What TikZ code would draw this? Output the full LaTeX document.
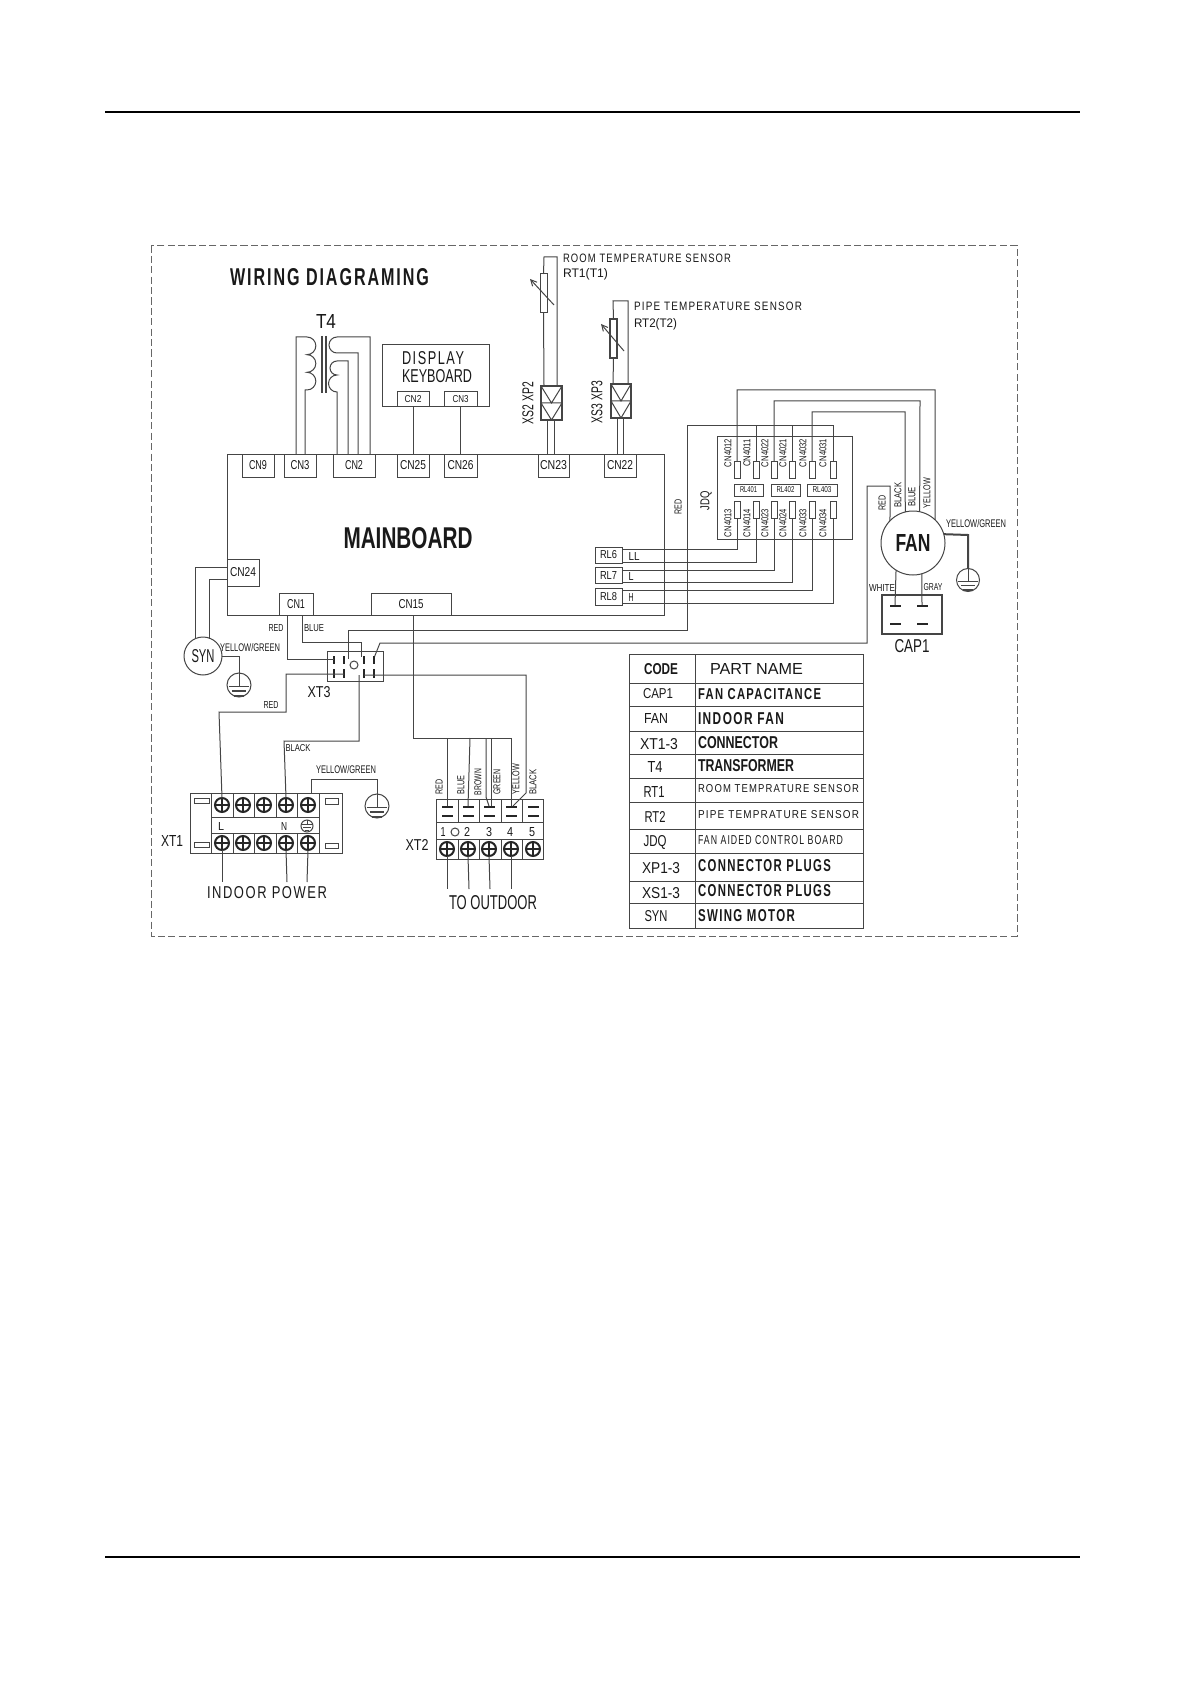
\documentclass[tikz,border=0pt]{standalone}
\usepackage{fontspec}
\usepackage{graphicx}
\setmainfont{Liberation Sans}
\newfontfamily\spcd[LetterSpace=12]{Liberation Sans}
\usetikzlibrary{arrows.meta,calc}
\newlength\pxu \setlength{\pxu}{0.5pt}
\newcounter{tn}
\definecolor{ink}{gray}{0.27}
\definecolor{textink}{gray}{0.1}
\tikzset{
  wire/.style={draw=ink,line width=0.5pt,line join=miter},
  txt/.style={inner sep=0pt,outer sep=0pt,text=textink},
  box/.style={draw=ink,line width=0.5pt,rectangle,inner sep=0pt,outer sep=0pt,text=textink},
  thickbox/.style={box,line width=1.1pt},
  screwc/.style={draw=black!85,line width=1pt,circle,inner sep=0pt,outer sep=0pt,minimum size=7pt},
  earthc/.style={draw=ink,line width=0.5pt,circle,inner sep=0pt,outer sep=0pt,text=textink},
  bar/.style={fill=black!85,rectangle,inner sep=0pt,outer sep=0pt},
  framed/.style={draw=black!60,line width=0.5pt,dash pattern=on 3.6pt off 1.6pt},
}
\newcommand{\rb}[3]{\resizebox{#1\pxu}{#2\pxu}{#3}}
\newcommand{\tx}[6][]{\stepcounter{tn}\node[txt,#1] (t\arabic{tn}) at (#2,#3) {\rb{#4}{#5}{#6}};}
\newcommand{\bx}[7][]{\node[box,#1,minimum width={(#5-#3)*\pxu},minimum height={(#6-#4)*\pxu}] (#2) at ({(#3+#5)/2},{(#4+#6)/2}) {#7};}
\newcommand{\screw}[3]{\node[screwc] (#1) at (#2,#3) {};
  \draw[draw=black!85,line width=0.8pt] (#2-7,#3)--(#2+7,#3) (#2,#3-7)--(#2,#3+7);}
\newcommand{\earth}[4]{\node[earthc,minimum size={2*#4*\pxu}] (#1) at (#2,#3) {};
  \draw[draw=ink,line width=0.5pt] (#1.north)--(#2,#3+0.1*#4) (#2-0.85*#4,#3+0.1*#4)--(#2+0.85*#4,#3+0.1*#4);
  \draw[draw=ink,line width=0.7pt] (#2-0.6*#4,#3+0.5*#4)--(#2+0.6*#4,#3+0.5*#4);
  \draw[draw=ink,line width=1pt] (#2-0.4*#4,#3+0.88*#4)--(#2+0.4*#4,#3+0.88*#4);}
\newcommand{\conn}[6]{\node[thickbox,minimum width={(#4-#2)*\pxu},minimum height={(#5-#3)*\pxu}] (#1) at ({(#2+#4)/2},{(#3+#5)/2}) {};
  \draw[wire] (#2,#6)--(#4,#6)
   (#2,#3)--({(#2+#4)/2},#6)--(#4,#3)
   (#2,#6)--({(#2+#4)/2},#5)--(#4,#6);}
\newcommand{\bars}[3]{\node[bar,minimum width=5.5pt,minimum height=1pt] (#1) at (#2,#3) {};}
\begin{document}
\begin{tikzpicture}[x=0.5pt,y=-0.5pt]
\useasboundingbox (0,0) rectangle (1191,1684);
\fill[white] (0,0) rectangle (1191,1684);
% page rules
\draw[black,line width=1pt] (105,112)--(1080,112);
\draw[black,line width=1pt] (105,1557)--(1080,1557);
% frame
\draw[framed] (151.5,245.5) rectangle (1017,936);
\tx[anchor=west]{230}{277}{199}{17}{\spcd\bfseries WIRING DIAGRAMING}
% board and connectors
\bx{board}{227}{454}{664}{615}{}
\tx{408}{538}{129}{21}{\bfseries MAINBOARD}
\bx{cn9}{242}{454}{274}{477}{\rb{18}{9}{CN9}}
\bx{cn3}{284}{454}{316}{477}{\rb{19}{9}{CN3}}
\bx{cn2}{333}{454}{375}{477}{\rb{18}{9}{CN2}}
\bx{cn25}{397}{454}{429}{477}{\rb{26}{9}{CN25}}
\bx{cn26}{444}{454}{477}{477}{\rb{26}{9}{CN26}}
\bx{cn23}{538}{454}{569}{477}{\rb{27}{9}{CN23}}
\bx{cn22}{604}{454}{636}{477}{\rb{26}{9}{CN22}}
\bx{cn24}{227}{559}{259}{586}{\rb{26}{9}{CN24}}
\bx{cn1}{279}{593}{313}{615}{\rb{18}{9}{CN1}}
\bx{cn15}{371}{593}{451}{615}{\rb{25}{9}{CN15}}
\bx{rl6}{595}{547}{622}{563}{\rb{17}{8}{RL6}}
\bx{rl7}{595}{567}{622}{583}{\rb{17}{8}{RL7}}
\bx{rl8}{595}{588}{622}{605}{\rb{17}{8}{RL8}}
\tx{634}{556}{11}{8}{LL}
\tx{631}{576}{5}{8}{L}
\tx{631}{597}{5}{8}{H}
% transformer
\tx{326}{322}{20}{14}{T4}
\coordinate (c3a) at (296,454);
\coordinate (c3b) at (305,454);
\coordinate (c2a) at (337,454);
\coordinate (c2b) at (348,454);
\coordinate (c2c) at (358,454);
\coordinate (c2d) at (370,454);
\coordinate (cl1) at (307,337);
\coordinate (cr1) at (337,337);
\coordinate (cr2) at (337,361);
\draw[wire] (c3a)--(296,337)--(cl1)
  arc[start angle=-90,end angle=90,radius=8.83]
  arc[start angle=-90,end angle=90,radius=8.83]
  arc[start angle=-90,end angle=90,radius=8.83]
  --(305,390)--(c3b);
\draw[wire,line width=1pt] (322,336)--(322,393) (326,336)--(326,393);
\draw[wire] (c2d)--(370,337)--(cr1)
  arc[start angle=-90,end angle=-270,radius=8]--(358,353)--(c2c);
\draw[wire] (c2b)--(348,361)--(cr2)
  arc[start angle=-90,end angle=-270,radius=7]
  arc[start angle=-90,end angle=-270,radius=8.5]--(c2a);
% display
\bx{disp}{382}{345}{489}{407}{}
\tx[anchor=west]{402}{358}{62}{13}{\spcd DISPLAY}
\tx[anchor=west]{402}{376}{70}{13}{KEYBOARD}
\bx{dcn2}{397}{392}{429}{407}{\rb{17}{7}{CN2}}
\bx{dcn3}{444}{392}{477}{407}{\rb{16}{7}{CN3}}
\draw[wire] (dcn2.south)--(cn25.north);
\draw[wire] (dcn3.south)--(cn26.north);
% RT1
\bx{rt1}{540}{274}{547}{313}{}
\conn{xs2}{541}{386}{562}{420}{403}
\draw[wire] (rt1.north)--(544,257)--(557,257)--(557,386);
\draw[wire] (rt1.south)--(544,386);
\draw[wire] (547,420)--(547,454) (554,420)--(554,454);
\draw[draw=ink,line width=0.5pt,-{Straight Barb[length=3pt,width=3pt]}] (554,305)--(530,279);
\tx[anchor=west]{563}{258}{168}{8.5}{\spcd ROOM TEMPERATURE SENSOR}
\tx[anchor=west]{563}{274}{45}{9}{RT1(T1)}
\tx[rotate=90]{528}{403}{42}{11}{XS2 XP2}
% RT2
\bx[thickbox]{rt2}{610}{319}{617}{358}{}
\conn{xs3}{611}{384}{631}{418}{401}
\draw[wire] (rt2.north)--(613,301)--(628,301)--(628,384);
\draw[wire] (rt2.south)--(613,384);
\draw[wire] (617,418)--(617,454) (623,418)--(623,454);
\draw[draw=ink,line width=0.5pt,-{Straight Barb[length=3pt,width=3pt]}] (624,351)--(601,324);
\tx[anchor=west]{634}{306}{168}{8.5}{\spcd PIPE TEMPERATURE SENSOR}
\tx[anchor=west]{634}{324}{43}{9}{RT2(T2)}
\tx[rotate=90]{597}{402}{42}{11}{XS3 XP3}
% JDQ
\bx{jdq}{717}{437}{852}{539}{}
\tx[rotate=90]{706}{501}{19}{9}{JDQ}
\bx{a1}{734}{461}{740}{478}{}
\bx{a2}{753}{461}{759}{478}{}
\bx{a3}{771}{461}{777}{478}{}
\bx{a4}{789}{461}{795}{478}{}
\bx{a5}{809}{461}{815}{478}{}
\bx{a6}{830}{461}{836}{478}{}
\bx{b1}{734}{501}{740}{518}{}
\bx{b2}{753}{501}{759}{518}{}
\bx{b3}{771}{501}{777}{518}{}
\bx{b4}{789}{501}{795}{518}{}
\bx{b5}{809}{501}{815}{518}{}
\bx{b6}{830}{501}{836}{518}{}
\bx{r1}{734}{484}{763}{496}{\rb{17}{6}{RL401}}
\bx{r2}{771}{484}{800}{496}{\rb{18}{6}{RL402}}
\bx{r3}{807}{484}{837}{496}{\rb{19}{6}{RL403}}
\tx[rotate=90]{728}{453}{28}{7}{CN4012}
\tx[rotate=90]{747}{453}{28}{7}{CN4011}
\tx[rotate=90]{765}{453}{28}{7}{CN4022}
\tx[rotate=90]{783}{453}{28}{7}{CN4021}
\tx[rotate=90]{803}{453}{28}{7}{CN4032}
\tx[rotate=90]{823}{453}{28}{7}{CN4031}
\tx[rotate=90]{728}{523}{28}{7}{CN4013}
\tx[rotate=90]{747}{523}{28}{7}{CN4014}
\tx[rotate=90]{765}{523}{28}{7}{CN4023}
\tx[rotate=90]{783}{523}{28}{7}{CN4024}
\tx[rotate=90]{803}{523}{28}{7}{CN4033}
\tx[rotate=90]{823}{523}{28}{7}{CN4034}
% relay wires
\coordinate (rl6a) at (622,549);
\coordinate (rl6b) at (622,562);
\coordinate (rl7a) at (622,570);
\coordinate (rl7b) at (622,582);
\coordinate (rl8a) at (622,590);
\coordinate (rl8b) at (622,603);
\draw[wire] (rl6a)-|(b1.south);
\draw[wire] (rl6b)-|(b2.south);
\draw[wire] (rl7a)-|(b3.south);
\draw[wire] (rl7b)-|(b4.south);
\draw[wire] (rl8a)-|(b5.south);
\draw[wire] (rl8b)-|(b6.south);
% fan
\node[earthc,minimum size=32pt] (fan) at (913,543) {\rb{35}{17}{\bfseries FAN}};
\draw[wire] (a1.north)|-(935,390)--(fan.46);
\draw[wire] (a3.north)|-(920,401)--(fan.78);
\draw[wire] (a5.north)|-(905,412)--(fan.104);
\coordinate (redtail) at (380,643);
\coordinate (xt3n) at (374,658);
\draw[wire] (fan.136)--(890,486)--(867,486)--(867,643)--(redtail)--(xt3n);
% red common wire
\coordinate (xt3a) at (348,659);
\draw[wire] (a2.north)--(756,426);
\draw[wire] (a4.north)--(792,426);
\draw[wire] (a6.north)|-(687,426)--(687,630)--(348,630)--(xt3a);
\tx[rotate=90]{678}{507}{15}{7}{RED}
\tx[rotate=90]{882}{503}{15}{7}{RED}
\tx[rotate=90]{898}{495}{25}{7}{BLACK}
\tx[rotate=90]{912}{497}{20}{7}{BLUE}
\tx[rotate=90]{927}{493}{30}{7}{YELLOW}
\tx{976}{524}{60}{8}{YELLOW/GREEN}
\earth{e1}{968}{580}{11.5}
\draw[wire,line width=1pt] (fan.16)--(968,535)--(e1.north);
% capacitor
\bx[line width=0.9pt]{cap}{882}{595}{942}{634}{}
\bars{c1}{895}{606}
\bars{c2}{922}{606}
\bars{c3}{895}{624}
\bars{c4}{922}{624}
\draw[wire] (fan.-122)--(c1.north);
\draw[wire] (fan.-74)--(c2.north);
\tx{882}{588}{26}{7}{WHITE}
\tx{933}{587}{19}{7}{GRAY}
\tx{912}{646}{35}{13}{CAP1}
% SYN
\node[earthc,minimum size=19pt] (syn) at (203,656) {\rb{23}{13}{SYN}};
\draw[wire] (cn24.west|-0,567)--(195,567)--(195,639);
\draw[wire] (cn24.west|-0,579)--(209,579)--(209,639);
\earth{e2}{239}{685}{12}
\draw[wire] (syn.east)--(239,656)--(e2.north);
\tx{250}{648}{60}{8}{YELLOW/GREEN}
% XT3
\bx{xt3}{327}{651}{383}{681}{}
\foreach \xx in {334,344,364,374}{
  \draw[black!85,line width=1pt] (\xx,656)--(\xx,664) (\xx,669)--(\xx,678);}
\node[earthc,minimum size=4pt] (xt3c) at (354,665) {};
\tx{319}{692}{23}{11}{XT3}
\draw[wire] (cn1.south-|287,0)--(287,659)--(334,659);
\draw[wire] (cn1.south-|302,0)--(302,642)--(361,642)--(361,657);
\tx{276}{628}{15}{7}{RED}
\tx{314}{628}{20}{7}{BLUE}
% XT1
\bx{xt1}{190}{793}{342}{853}{}
\draw[wire] (211,793)--(211,853) (319,793)--(319,853) (211,817)--(319,817) (211,833)--(319,833);
\foreach \xx in {233,254,276,297}{\draw[wire] (\xx,793)--(\xx,817) (\xx,833)--(\xx,853);}
\bx{s1}{194}{798}{209}{803}{}
\bx{s2}{325}{798}{338}{804}{}
\bx{s3}{194}{842}{209}{847}{}
\bx{s4}{325}{843}{338}{848}{}
\screw{u1}{222}{805}\screw{u2}{243}{805}\screw{u3}{264}{805}\screw{u4}{286}{805}\screw{u5}{308}{805}
\screw{v1}{222}{843}\screw{v2}{243}{843}\screw{v3}{264}{843}\screw{v4}{286}{843}\screw{v5}{308}{843}
\tx{221}{826}{6}{8}{L}
\tx{284}{826}{6}{8}{N}
\node[earthc,minimum size=6pt] (gnds) at (307,826) {};
\draw[wire,line width=0.4pt] (301,824)--(313,824) (303,827)--(311,827) (305,830)--(309,830) (307,820)--(307,824);
\tx{172}{841}{22}{11}{XT1}
\coordinate (pw1) at (222,882);
\coordinate (pw2) at (287,882);
\coordinate (pw3) at (307,882);
\draw[wire] (v1.south)--(pw1);
\draw[wire] (v4.south)--(pw2);
\draw[wire] (v5.south)--(pw3);
\tx[anchor=west]{207}{893}{120}{12}{\spcd INDOOR POWER}
\draw[wire] (344,674)--(286,674)--(286,712)--(219,712)--(u1.north);
\tx{271}{705}{15}{7}{RED}
\draw[wire] (359,675)--(359,741)--(284,741)--(u4.north);
\tx{298}{748}{25}{7}{BLACK}
\earth{e3}{377}{806}{12}
\draw[wire] (311,793)--(311,779)--(377,779)--(e3.north);
\tx{346}{770}{60}{8}{YELLOW/GREEN}
% XT2
\bx{xt2}{436}{799}{543}{859}{}
\draw[wire] (436,822)--(543,822) (436,839)--(543,839);
\foreach \xx in {458,479,501,522}{\draw[wire] (\xx,799)--(\xx,822) (\xx,839)--(\xx,859);}
\bars{p1}{447}{807}\bars{p2}{468}{807}\bars{p3}{489}{807}\bars{p4}{511}{807}\bars{p5}{533}{807}
\bars{q1}{447}{816}\bars{q2}{468}{816}\bars{q3}{489}{816}\bars{q4}{511}{816}\bars{q5}{533}{816}
\tx{443}{832}{5}{9}{1}
\node[earthc,minimum size=4pt] (xt2c) at (455,832) {};
\tx{467}{832}{6}{9}{2}
\tx{489}{832}{6}{9}{3}
\tx{510}{832}{6}{9}{4}
\tx{532}{832}{6}{9}{5}
\screw{w1}{447}{849}\screw{w2}{468}{849}\screw{w3}{489}{849}\screw{w4}{511}{849}\screw{w5}{533}{849}
\coordinate (ou1) at (447,889);
\coordinate (ou2) at (469,889);
\coordinate (ou3) at (490,889);
\coordinate (ou4) at (511,889);
\draw[wire] (w1.south)--(ou1);
\draw[wire] (w2.south)--(ou2);
\draw[wire] (w3.south)--(ou3);
\draw[wire] (w4.south)--(ou4);
\tx[anchor=west]{449}{903}{88}{14}{TO OUTDOOR}
\tx{417}{845}{23}{11}{XT2}
\draw[wire] (cn15.south-|413,0)--(413,738)--(511,738)--(p4.north-|511,0);
\draw[wire] (447,738)--(p1.north);
\draw[wire] (470,738)--(p2.north);
\draw[wire] (486,738)--(486,797)--(p3.north);
\draw[wire] (491,738)--(491,806);
\draw[wire] (364,675)--(526,675)--(526,793)--(513,806);
\tx[rotate=90]{439}{787}{15}{7}{RED}
\tx[rotate=90]{461}{785}{19}{7}{BLUE}
\tx[rotate=90]{478}{782}{26}{7}{BROWN}
\tx[rotate=90]{497}{782}{25}{7}{GREEN}
\tx[rotate=90]{516}{779}{30}{7}{YELLOW}
\tx[rotate=90]{533}{782}{25}{7}{BLACK}
% table
\bx{tbl}{629}{654}{863}{928}{}
\draw[wire] (695,654)--(695,928);
\foreach \yy in {683,706,731,754,778,802,829,853,881,903}{\draw[wire] (629,\yy)--(863,\yy);}
\tx{661}{669}{34}{11}{\bfseries CODE}
\tx[anchor=west]{710}{669}{93}{11}{PART NAME}
\tx{658}{694}{30}{10}{CAP1}
\tx{656}{718}{24}{10}{FAN}
\tx{659}{744}{38}{11}{XT1-3}
\tx{655}{767}{15}{11}{T4}
\tx{654}{792}{21}{11}{RT1}
\tx{655}{817}{21}{11}{RT2}
\tx{655}{842}{23}{11}{JDQ}
\tx{661}{868}{38}{11}{XP1-3}
\tx{661}{893}{38}{11}{XS1-3}
\tx{656}{916}{23}{11}{SYN}
\tx[anchor=west]{698}{694}{123}{11}{\bfseries\spcd FAN CAPACITANCE}
\tx[anchor=west]{698}{719}{86}{12}{\bfseries\spcd INDOOR FAN}
\tx[anchor=west]{698}{743}{80}{12}{\bfseries CONNECTOR}
\tx[anchor=west]{698}{766}{96}{12}{\bfseries TRANSFORMER}
\tx[anchor=west]{698}{789}{161}{8}{\spcd ROOM TEMPRATURE SENSOR}
\tx[anchor=west]{698}{815}{161}{8}{\spcd PIPE TEMPRATURE SENSOR}
\tx[anchor=west]{698}{840}{145}{9}{\spcd FAN AIDED CONTROL BOARD}
\tx[anchor=west]{698}{866}{133}{12}{\bfseries\spcd CONNECTOR PLUGS}
\tx[anchor=west]{698}{891}{133}{12}{\bfseries\spcd CONNECTOR PLUGS}
\tx[anchor=west]{698}{916}{97}{12}{\bfseries\spcd SWING MOTOR}
\end{tikzpicture}
\end{document}
